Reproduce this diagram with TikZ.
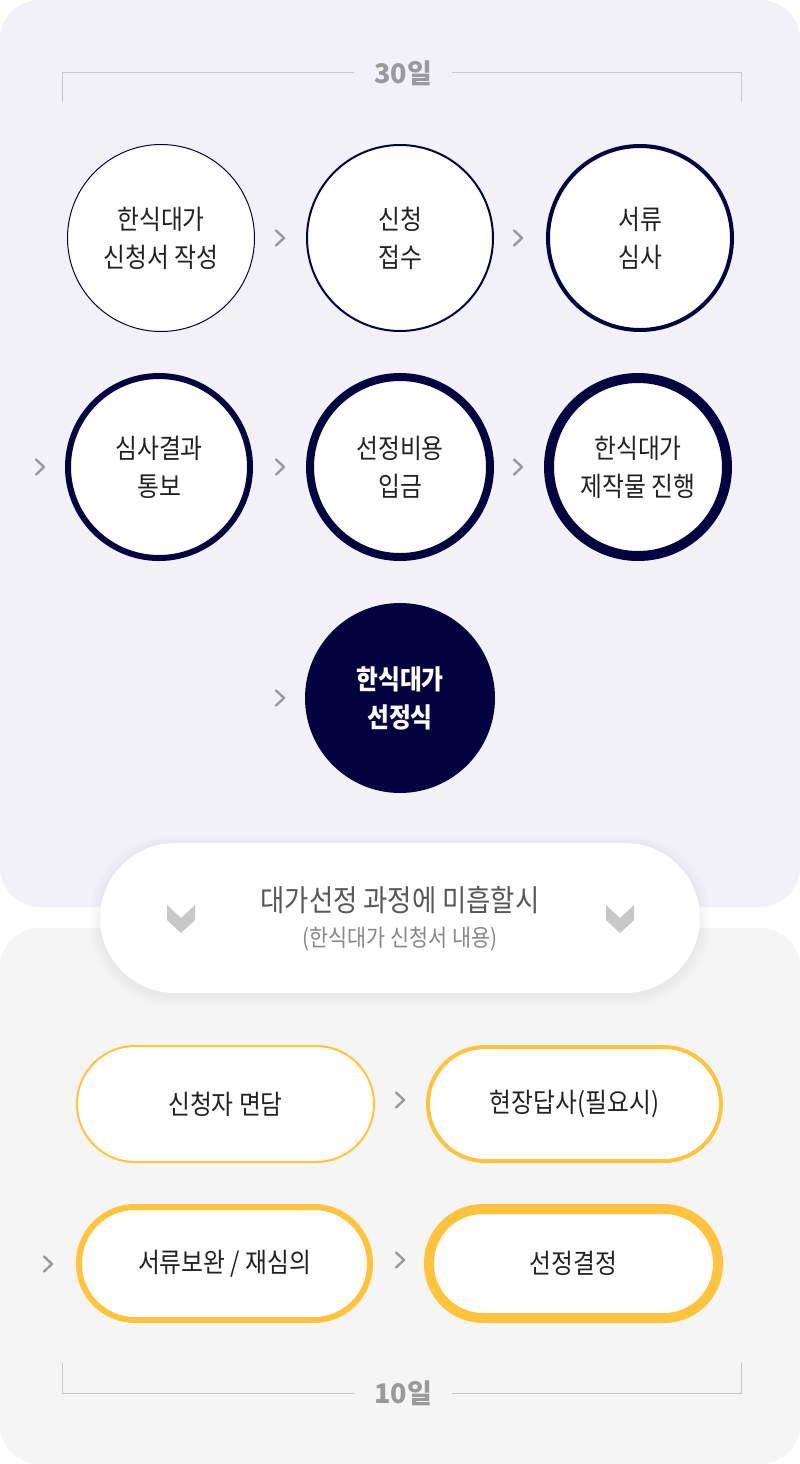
\documentclass[tikz,border=0pt]{standalone}
\usepackage{fontspec}
\setmainfont{Noto Sans CJK KR}
\newfontfamily\krc[FakeStretch=0.88]{Noto Sans CJK KR}
\definecolor{navy}{HTML}{03043F}
\definecolor{toppanel}{HTML}{F1F1F7}
\definecolor{botpanel}{HTML}{F5F5F5}
\definecolor{gold}{HTML}{FFC43B}
\definecolor{txt}{HTML}{222222}
\definecolor{chevgray}{HTML}{9A9A9A}
\definecolor{brk}{HTML}{C8C8C8}
\tikzset{
  circ/.style={circle, draw=navy, fill=white, inner sep=0pt, align=center, text=txt,
    font={\krc\fontsize{27pt}{38pt}\selectfont}},
  pill/.style={rectangle, draw=gold, fill=white, inner sep=0pt, align=center, text=txt,
    font={\krc\fontsize{27pt}{30pt}\selectfont}},
  chevstyle/.style={draw=chevgray, line width=2.4pt, line cap=round, line join=round},
  chev/.pic={\draw[chevstyle] (-4,-7.5) -- (4,0) -- (-4,7.5);},
  downchev/.pic={\fill[brk] (-14,-13) -- (0,0) -- (14,-13) -- (14,2) -- (0,15) -- (-14,2) -- cycle;},
  bracketline/.style={draw=brk, line width=1pt},
  daylabel/.style={text=chevgray, font={\fontsize{27pt}{30pt}\selectfont\bfseries}, inner xsep=20pt, inner ysep=0pt}
}
\begin{document}
\begin{tikzpicture}[x=1pt,y=-1pt]
\useasboundingbox (0,0) rectangle (800,1464);
\fill[white] (0,0) rectangle (800,1464);
\fill[toppanel, rounded corners=40pt] (0,0) rectangle (800,907);
\fill[botpanel, rounded corners=40pt] (0,928) rectangle (800,1464);

% top bracket
\node[daylabel] (d30) at (403,73) {30일};
\draw[bracketline] (62,102) -- (62,73) -- (d30.west);
\draw[bracketline] (d30.east) -- (741,73) -- (741,102);

% circles row 1
\node[circ, line width=1pt, minimum size=187pt] (c1) at (161,238) {한식대가\\신청서 작성};
\node[circ, line width=2pt, minimum size=186pt] (c2) at (400,238) {신청\\접수};
\node[circ, line width=4pt, minimum size=184pt] (c3) at (640,238) {서류\\심사};
% row 2
\node[circ, line width=6pt, minimum size=182pt] (c4) at (159,467) {심사결과\\통보};
\node[circ, line width=8pt, minimum size=180pt] (c5) at (400,467) {선정비용\\입금};
\node[circ, line width=10pt, minimum size=178pt] (c6) at (638,467) {한식대가\\제작물 진행};
% row 3
\node[circle, fill=navy, inner sep=0pt, minimum size=190pt, align=center, text=white,
  font={\krc\fontsize{27pt}{38pt}\selectfont\bfseries}] (c7) at (400,698) {한식대가\\선정식};

% chevrons
\pic at (280,238) {chev};
\pic at (518,238) {chev};
\pic at (40,467) {chev};
\pic at (280,467) {chev};
\pic at (518,467) {chev};
\pic at (280,698) {chev};

% middle pill with soft shadow
\foreach \i in {1,...,12} {
  \fill[black, opacity=0.0045, rounded corners={75pt+\i pt}] (100-\i,843-\i+3) rectangle (700+\i,993+\i+3);
}
\node[rectangle, fill=white, rounded corners=75pt, minimum width=600pt, minimum height=150pt, inner sep=0pt] (mid) at (400,918) {};
\node[text=black!66, font={\krc\fontsize{30pt}{32pt}\selectfont}] (midt) at (400,900) {대가선정 과정에 미흡할시};
\node[text=black!47, font={\krc\fontsize{23.5pt}{26pt}\selectfont}] (mids) at (400,939) {(한식대가 신청서 내용)};
\pic at (181,918) {downchev};
\pic at (620,918) {downchev};

% bottom pills
\node[pill, line width=2pt, rounded corners=58pt, minimum width=297pt, minimum height=116pt] (p1) at (225.5,1104) {신청자 면담};
\node[pill, line width=4pt, rounded corners=57pt, minimum width=293pt, minimum height=114pt] (p2) at (574.5,1104) {현장답사(필요시)};
\node[pill, line width=6pt, rounded corners=56pt, minimum width=291pt, minimum height=113pt] (p3) at (224.5,1263.5) {서류보완 / 재심의};
\node[pill, line width=10pt, rounded corners=54pt, minimum width=289pt, minimum height=109pt] (p4) at (573.5,1263.5) {선정결정};

\pic at (400,1100) {chev};
\pic at (48,1264) {chev};
\pic at (400,1260) {chev};

% bottom bracket
\node[daylabel] (d10) at (403,1393) {10일};
\draw[bracketline] (62,1363) -- (62,1393) -- (d10.west);
\draw[bracketline] (d10.east) -- (741,1393) -- (741,1363);
\end{tikzpicture}
\end{document}
